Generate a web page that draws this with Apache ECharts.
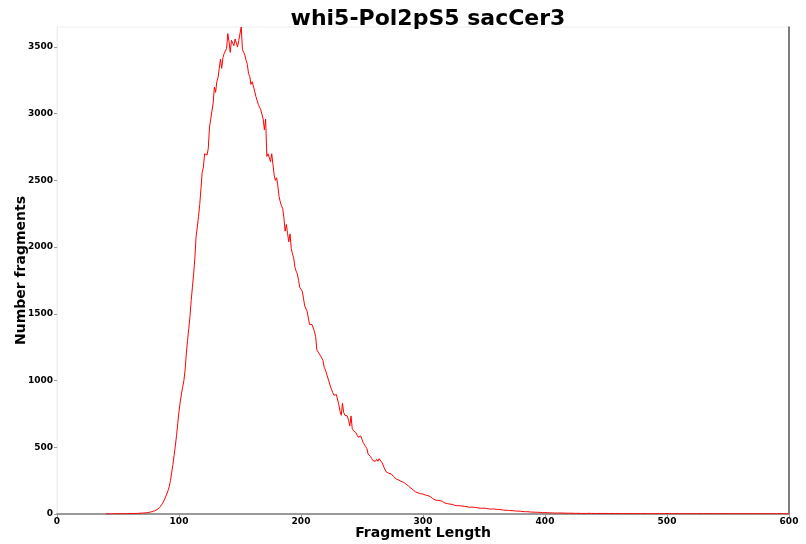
<!DOCTYPE html>
<html>
<head>
<meta charset="utf-8">
<script src="https://cdn.jsdelivr.net/npm/echarts@6/dist/echarts.min.js"></script>
<style>
html,body{margin:0;padding:0;background:#fff;}
#c{width:806px;height:544px;}
</style>
</head>
<body>
<div id="c"></div>
<script>
var chartTitle = "whi5-Pol2pS5 sacCer3";
var xName = "Fragment Length";
var yName = "Number fragments";
var firstLength = 40;
var xTicks = [0, 100, 200, 300, 400, 500, 600];
var yTicks = [0, 500, 1000, 1500, 2000, 2500, 3000, 3500];

// counts per fragment length, starting at firstLength (40)
var counts40to99 = [
  1,0,1,1,0,2,1,1,2,1, 2,1,2,2,1,3,2,2,3,2,
  3,3,4,3,4,5,4,5,6,6, 7,8,8,9,10,12,13,15,18,20,
  24,28,33,40,48,60,72,88,105,128, 150,175,205,250,310,370,440,510,590,680
];
var counts100to199 = [
  770,840,900,950,1000,1080,1200,1300,1390,1480,
  1600,1700,1800,1920,2080,2150,2230,2320,2440,2560,
  2600,2700,2710,2690,2740,2900,2960,3020,3080,3200,
  3160,3240,3270,3340,3410,3340,3420,3450,3470,3490,
  3600,3540,3460,3550,3540,3510,3560,3530,3500,3550,
  3560,3650,3480,3460,3440,3400,3370,3300,3280,3220,
  3240,3250,3170,3130,3100,3070,3050,3030,3030,2960,
  2880,2960,2680,2700,2700,2640,2700,2620,2540,2500,
  2520,2460,2380,2340,2310,2290,2220,2120,2170,2100,
  2040,2100,1990,1950,1920,1850,1820,1800,1750,1700
];
var counts200to299 = [
  1690,1670,1620,1560,1550,1520,1470,1420,1410,1420,
  1410,1370,1330,1230,1220,1200,1190,1170,1150,1100,
  1080,1050,1020,990,960,935,910,890,885,895,
  900,820,770,740,830,760,740,745,735,700,
  660,735,640,625,615,610,590,575,585,585,
  560,535,525,505,490,450,460,430,415,400,
  405,395,410,395,415,405,390,375,350,330,
  315,320,305,300,300,290,280,275,262,265,
  255,250,245,240,237,230,225,215,210,200,
  195,190,180,172,165,162,158,155,152,150
];
var counts300to399 = [
  150,145,142,140,138,135,130,120,115,110,
  105,100,102,98,100,100,95,88,82,80,
  78,76,74,70,72,68,65,66,62,60,
  62,58,60,56,57,54,55,52,50,53,
  52,49,50,47,48,46,44,46,43,45,
  44,41,42,40,38,40,37,36,38,35,
  35,33,34,31,32,30,29,30,28,27,
  27,26,25,24,25,23,22,21,22,20,
  20,19,18,19,17,16,17,15,15,14,
  14,13,13,12,13,11,12,11,10,10
];
var counts400to499 = [
  10,9,10,9,8,9,8,8,7,8, 7,7,8,6,7,6,7,6,6,5,
  6,5,6,5,5,6,5,4,5,5, 4,5,4,5,4,4,5,4,4,3,
  4,4,3,4,4,3,4,3,4,3, 4,3,3,4,3,3,4,3,3,3,
  4,3,3,3,2,3,3,4,3,3, 3,2,3,3,3,2,3,3,2,3,
  3,2,3,2,3,3,2,3,2,3, 2,3,2,3,2,2,3,2,3,2
];
var counts500to600 = [
  3,2,3,2,2,3,2,2,3,2, 2,3,2,2,2,3,2,2,2,3,
  2,2,2,3,2,2,2,2,3,2, 2,2,2,2,3,2,2,2,2,2,
  2,3,2,2,2,2,2,2,3,2, 2,2,2,2,2,2,3,2,2,2,
  2,2,2,2,2,3,2,2,2,2, 2,2,2,2,2,2,2,3,2,2,
  2,2,2,2,2,2,2,2,2,2, 2,2,3,2,2,2,2,2,2,2, 2
];

var counts = [].concat(counts40to99, counts100to199, counts200to299,
                       counts300to399, counts400to499, counts500to600);
var seriesData = counts.map(function (v, i) { return [firstLength + i, v]; });

var FONT = "DejaVu Sans";
var plain = function (v) { return String(v); };
var chart = echarts.init(document.getElementById('c'), null, {renderer: 'canvas'});
chart.setOption({
  backgroundColor: '#ffffff',
  animation: false,
  title: {
    text: chartTitle,
    left: 423, top: 3, textAlign: 'center',
    textStyle: {fontFamily: FONT, fontWeight: 'bold', fontSize: 22, color: '#000'}
  },
  grid: {
    left: 57, right: 17, top: 27, bottom: 30,
    containLabel: false, outerBoundsMode: 'none',
    show: true, borderColor: '#eeeeee', borderWidth: 1, backgroundColor: '#fff'
  },
  xAxis: {
    type: 'value', min: 0, max: 600, interval: 100,
    name: xName, nameLocation: 'middle', nameGap: 12, nameMoveOverlap: false,
    nameTextStyle: {fontFamily: FONT, fontWeight: 'bold', fontSize: 14, color: '#000'},
    axisLine: {show: true, lineStyle: {color: '#999999', width: 2}},
    axisTick: {show: true, length: 3, lineStyle: {color: '#999'}},
    axisLabel: {fontFamily: FONT, fontWeight: 'bold', fontSize: 9, color: '#000', margin: 3,
      formatter: plain},
    splitLine: {show: false}
  },
  yAxis: [{
    type: 'value', min: 0, max: 3650, interval: 500,
    name: yName, nameLocation: 'middle', nameGap: 29, nameMoveOverlap: false,
    nameTextStyle: {fontFamily: FONT, fontWeight: 'bold', fontSize: 14, color: '#000'},
    axisLine: {show: true, lineStyle: {color: '#eeeeee', width: 1}},
    axisTick: {show: true, length: 3, lineStyle: {color: '#999'}},
    axisLabel: {fontFamily: FONT, fontWeight: 'bold', fontSize: 9, color: '#000', margin: 4,
      showMaxLabel: false, formatter: plain},
    splitLine: {show: false}
  }, {
    type: 'value', min: 0, max: 3650, position: 'right',
    axisLine: {show: true, lineStyle: {color: '#555555', width: 1.5}},
    axisTick: {show: false}, axisLabel: {show: false}, splitLine: {show: false}
  }],
  series: [{
    type: 'line',
    data: seriesData,
    showSymbol: false,
    symbol: 'none',
    lineStyle: {color: '#ff0000', width: 1},
    itemStyle: {color: '#ff0000'}
  }]
});
</script>
</body>
</html>
